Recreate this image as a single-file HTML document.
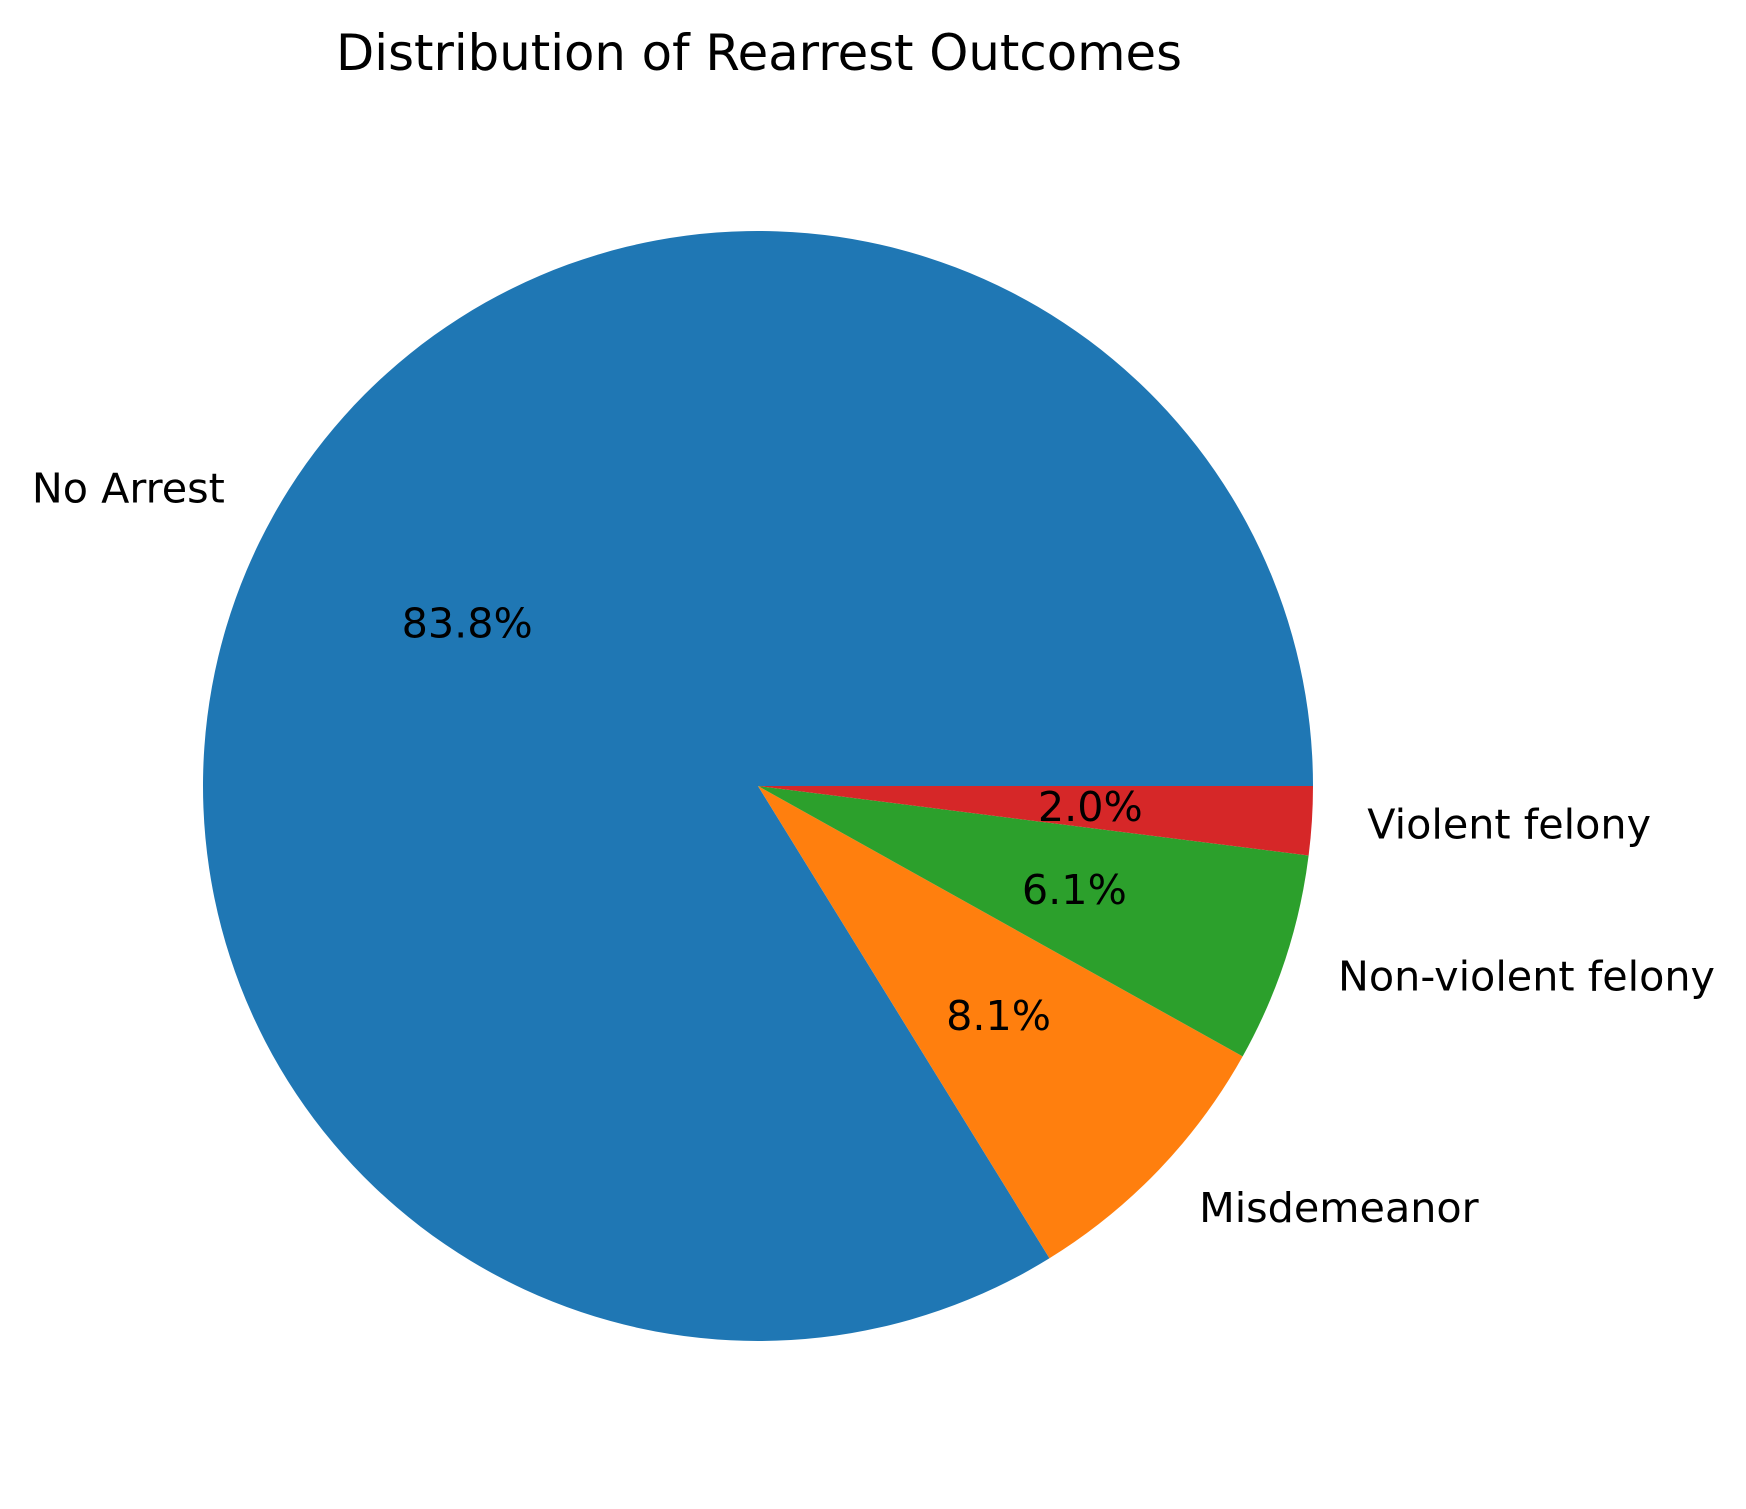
<!DOCTYPE html>
<html><head><meta charset="utf-8">
<style>html,body{margin:0;padding:0;background:#fff;}svg{display:block;}</style>
</head><body>
<svg id="chart" width="1746" height="1509" viewBox="0 0 1746 1509" xmlns="http://www.w3.org/2000/svg" font-family="'DejaVu Sans','Liberation Sans',sans-serif">
<text x="759" y="53" font-size="49.7" text-anchor="middle" dominant-baseline="central" fill="#000">Distribution of Rearrest Outcomes</text>
<g id="slices"></g>
<g id="labels"></g>
</svg>
<script>
const categories = ["No Arrest", "Misdemeanor", "Non-violent felony", "Violent felony"];
const values = [83.8, 8.1, 6.1, 2.0];
const pctLabels = ["83.8%", "8.1%", "6.1%", "2.0%"];
const colors = ["#1f77b4", "#ff7f0e", "#2ca02c", "#d62728"];

const cx = 758, cy = 786, R = 555;
const NS = "http://www.w3.org/2000/svg";
const total = values.reduce((a, b) => a + b, 0);
const gS = document.getElementById('slices');
const gL = document.getElementById('labels');
function pt(ang, r) { return [cx + r * Math.cos(ang), cy - r * Math.sin(ang)]; }
let start = 0;
values.forEach((v, i) => {
  const sweep = v / total * 2 * Math.PI;
  const end = start + sweep;
  const [x1, y1] = pt(start, R), [x2, y2] = pt(end, R);
  const large = sweep > Math.PI ? 1 : 0;
  const p = document.createElementNS(NS, 'path');
  p.setAttribute('d', `M${cx},${cy} L${x1},${y1} A${R},${R} 0 ${large} 0 ${x2},${y2} Z`);
  p.setAttribute('fill', colors[i]);
  
  
  gS.appendChild(p);
  const mid = (start + end) / 2;
  const [lx, ly] = pt(mid, R * 1.1);
  const t = document.createElementNS(NS, 'text');
  t.setAttribute('x', lx); t.setAttribute('y', ly);
  t.setAttribute('font-size', '41.3');
  t.setAttribute('dominant-baseline', 'central');
  t.setAttribute('text-anchor', Math.cos(mid) >= 0 ? 'start' : 'end');
  t.textContent = categories[i];
  
  
  gL.appendChild(t);
  const [px, py] = pt(mid, R * 0.6);
  const tp = document.createElementNS(NS, 'text');
  tp.setAttribute('x', px); tp.setAttribute('y', py);
  tp.setAttribute('font-size', '41.3');
  tp.setAttribute('dominant-baseline', 'central');
  tp.setAttribute('text-anchor', 'middle');
  tp.textContent = pctLabels[i];
  
  
  gL.appendChild(tp);
  start = end;
});
</script>
</body></html>
